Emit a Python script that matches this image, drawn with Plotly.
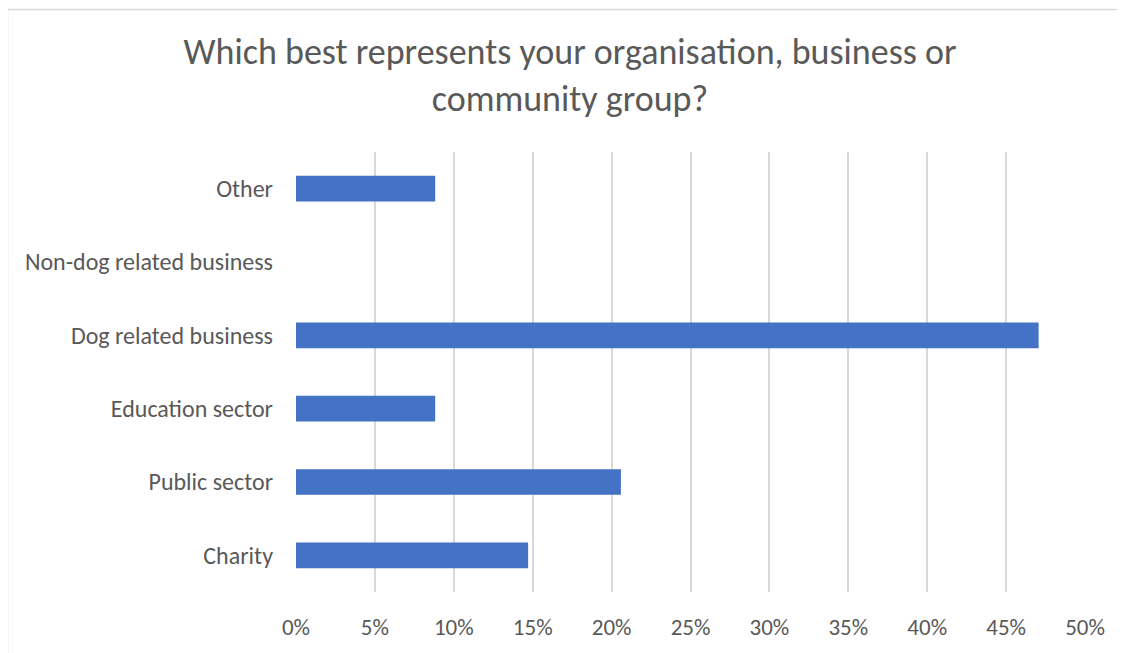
import plotly.graph_objects as go

categories = ["Charity", "Public sector", "Education sector", "Dog related business",
              "Non-dog related business", "Other"]
values = [0.1471, 0.2059, 0.0882, 0.4706, 0.0, 0.0882]
tick_vals = [0, 0.05, 0.10, 0.15, 0.20, 0.25, 0.30, 0.35, 0.40, 0.45, 0.50]
tick_text = ["0%", "5%", "10%", "15%", "20%", "25%", "30%", "35%", "40%", "45%", "50%"]
title_text = "Which best represents your organisation, business or<br>community group?"

# page has an 8px body margin; figure coords = screen coords - 8
OFF = 8
W, H = 1125 - OFF, 653 - OFF
ML, MR, MT, MB = 296 - OFF, 40, 152 - OFF, 55
pw, ph = W - ML - MR, H - MT - MB

def px_x(sx):
    return (sx - OFF - ML) / pw

def px_y(sy):
    return 1 - (sy - OFF - MT) / ph

font_family = "Carlito, Calibri, Lato, 'Open Sans', sans-serif"
grey = "#595959"

fig = go.Figure(go.Bar(
    x=values, y=categories, orientation="h",
    marker=dict(color="#4472C4", line=dict(width=0)),
    width=0.35,
))

fig.update_layout(
    width=W, height=H,
    margin=dict(l=ML, r=MR, t=MT, b=MB),
    paper_bgcolor="white", plot_bgcolor="white",
    showlegend=False,
    font=dict(family=font_family, color=grey),
    title=dict(text=title_text, x=(570 - OFF) / W, xanchor="center", xref="container",
               y=1 - (64 - OFF) / H, yanchor="top", yref="container",
               font=dict(size=36, color=grey, family=font_family)),
    xaxis=dict(range=[0, 0.5], tickvals=tick_vals, ticktext=tick_text,
               showgrid=True, gridcolor="#D9D9D9", gridwidth=1.5,
               zeroline=False, showline=False, ticks="",
               tickfont=dict(size=23, color=grey), ticklabelstandoff=19),
    yaxis=dict(categoryorder="array", categoryarray=categories,
               showgrid=False, zeroline=False, showline=False, ticks="",
               tickfont=dict(size=24, color=grey), ticklabelstandoff=22),
    shapes=[dict(type="rect", xref="paper", yref="paper",
                 x0=px_x(7.5), x1=px_x(1125 + 20), y0=px_y(653 + 20), y1=px_y(7.5),
                 line=dict(color="#D9D9D9", width=1.5), fillcolor="rgba(0,0,0,0)",
                 layer="below")],
)

fig.write_html("out.html")
